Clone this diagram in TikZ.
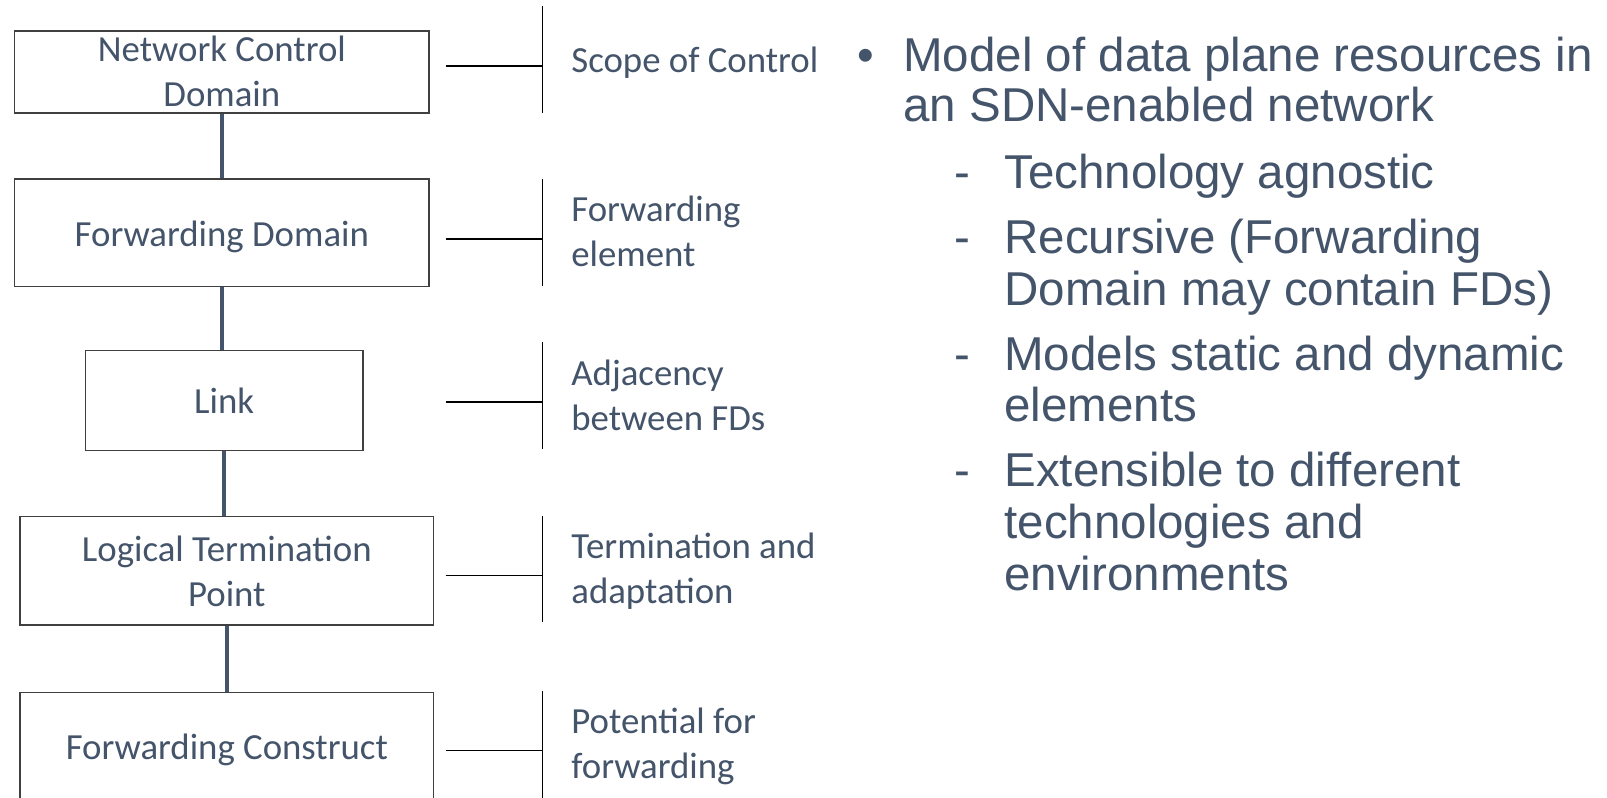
\documentclass[tikz,border=0pt]{standalone}
\usepackage{fontspec}
\setmainfont{Carlito}
\newfontfamily\listfont{Liberation Sans}
\definecolor{slate}{HTML}{44546A}
\definecolor{edge}{HTML}{404040}
\begin{document}
% multi-line nodes are placed by the baseline of their last line
\begin{tikzpicture}[x=0.5pt,y=-0.5pt,
  levelbox/.style={draw=edge,line width=0.75pt,fill=white,inner sep=0pt},
  boxtext/.style={anchor=base,align=center,text=slate,inner sep=0pt,
    font=\fontsize{18.4}{22.5}\selectfont},
  tagtext/.style={anchor=base west,align=left,text=slate,inner sep=0pt,
    font=\fontsize{18.4}{22.5}\selectfont},
  conn/.style={draw=slate,line width=1.75pt},
  bracket/.style={draw=black,line width=0.6pt},
  mainitem/.style={anchor=base west,align=left,text=slate,inner sep=0pt,
    font=\listfont\fontsize{23.75}{25}\selectfont},
  subitem/.style={anchor=base west,align=left,text=slate,inner sep=0pt,
    font=\listfont\fontsize{23.75}{25.85}\selectfont},
]
\clip (0,0) rectangle (1607,798);
\fill[white] (0,0) rectangle (1607,798);

% hierarchy boxes
\node[levelbox,minimum width=207.15pt,minimum height=41pt]    (ncd)  at (221.85,72)     {};
\node[levelbox,minimum width=207.15pt,minimum height=53.75pt] (fd)   at (221.85,232.75) {};
\node[levelbox,minimum width=138.85pt,minimum height=50pt]    (link) at (224.15,400.7)  {};
\node[levelbox,minimum width=206.85pt,minimum height=54.25pt] (ltp)  at (226.85,570.75) {};
\node[levelbox,minimum width=206.85pt,minimum height=54.25pt] (fc)   at (226.85,746.95) {};

% box captions
\node[boxtext] (ncdtxt)  at (221.85,106.7) {Network Control\\Domain};
\node[boxtext] (fdtxt)   at (221.85,246)   {Forwarding Domain};
\node[boxtext] (linktxt) at (224.15,413.3) {Link};
\node[boxtext] (ltptxt)  at (226.85,606)   {Logical Termination\\Point};
\node[boxtext] (fctxt)   at (226.85,759.7) {Forwarding Construct};

% containment connectors
\draw[conn] (ncd.south)  -- (ncd.south |- fd.north);
\draw[conn] (fd.south)   -- (fd.south |- link.north);
\draw[conn] (link.south) -- (link.south |- ltp.north);
\draw[conn] (ltp.south)  -- (ltp.south |- fc.north);

% side brackets
\coordinate (h1) at (445.7,66);    \coordinate (t1) at (542.3,6);     \coordinate (b1) at (542.3,112.7);
\coordinate (h2) at (445.7,239);   \coordinate (t2) at (542.3,179);   \coordinate (b2) at (542.3,285.7);
\coordinate (h3) at (445.7,402);   \coordinate (t3) at (542.3,341.7); \coordinate (b3) at (542.3,448.7);
\coordinate (h4) at (445.7,575.7); \coordinate (t4) at (542.3,515.7); \coordinate (b4) at (542.3,622);
\coordinate (h5) at (445.7,750.7); \coordinate (t5) at (542.3,690.7); \coordinate (b5) at (542.3,810);
\foreach \i in {1,...,5}{
  \draw[bracket] (t\i) -- (b\i);
  \draw[bracket] (h\i) -- (h\i -| t\i);
}

% bracket captions
\node[tagtext] (tag1) at (571,72.7)  {Scope of Control};
\node[tagtext] (tag2) at (571,266.7) {Forwarding\\element};
\node[tagtext] (tag3) at (571,430)   {Adjacency\\between FDs};
\node[tagtext] (tag4) at (571,603.3) {Termination and\\adaptation};
\node[tagtext] (tag5) at (571,778.3) {Potential for\\forwarding};

% bullet list
\node[mainitem] (bul)  at (857,71.7)  {\textbullet};
\node[mainitem] (main) at (903,121.7) {Model of data plane resources in\\an SDN-enabled network};
\node[subitem]  (d1)   at (954.5,188.3) {-};
\node[subitem]  (s1)   at (1004,188.3)  {Technology agnostic};
\node[subitem]  (d2)   at (954.5,253.3) {-};
\node[subitem]  (s2)   at (1004,305)    {Recursive (Forwarding\\Domain may contain FDs)};
\node[subitem]  (d3)   at (954.5,370)   {-};
\node[subitem]  (s3)   at (1004,421.7)  {Models static and dynamic\\elements};
\node[subitem]  (d4)   at (954.5,486.7) {-};
\node[subitem]  (s4)   at (1004,590)    {Extensible to different\\technologies and\\environments};
\end{tikzpicture}
\end{document}
